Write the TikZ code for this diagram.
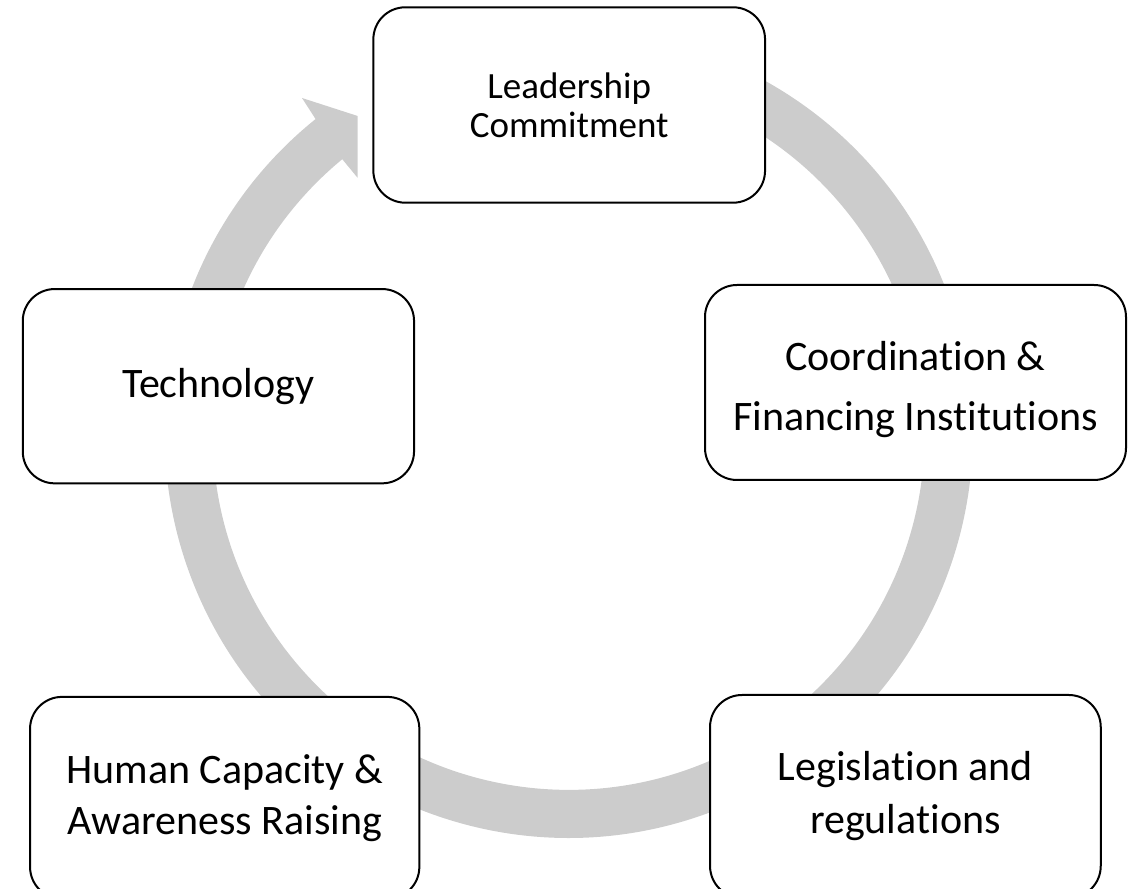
\documentclass[tikz,border=0pt]{standalone}
\usepackage{fontspec}
\setmainfont{Carlito}[Ligatures=NoCommon]
\usetikzlibrary{calc}
\definecolor{ringgray}{RGB}{204,204,204}
\begin{document}
\begin{tikzpicture}[x=1pt,y=1pt,
  box/.style={draw=black, line width=2pt, fill=white, rounded corners=32pt,
    rectangle, align=center, inner sep=0pt, text=black},
  bigtext/.style={font=\fontsize{42}{51}\selectfont},
  ]
\useasboundingbox (0,0) rectangle (1133,889);
\coordinate (C) at (568.7,455.1);
% circular arrow
\fill[ringgray] ($(C)+(110:404)$) arc[start angle=110, end angle=-231.2, radius=404]
  -- (302,791) -- (357.7,773) -- (357.5,711.3)
  -- ($(C)+(-230.5:356)$) arc[start angle=-230.5, end angle=110, radius=356] -- cycle;
% boxes
\node[box, minimum width=391.7pt, minimum height=195.4pt,
  font=\fontsize{37}{39.3}\selectfont] (lead) at (569.2,784) {Leadership\\Commitment};
\node[box, minimum width=421pt, minimum height=195pt,
  font=\fontsize{42}{60}\selectfont] (coord) at (915.5,506.5) {\rule{0pt}{44pt}Coordination \&\\Financing Institutions};
\node[box, minimum width=390.7pt, minimum height=203pt,
  font=\fontsize{42}{53}\selectfont] (legis) at (905.4,92.5) {Legislation and\\regulations};
\node[box, bigtext, minimum width=389.3pt, minimum height=202pt] (human) at (224.7,91.1) {Human Capacity \&\\Awareness Raising};
\node[box, bigtext, minimum width=391.3pt, minimum height=194.3pt] (tech) at (218.4,502.8) {Technology};
\end{tikzpicture}
\end{document}
